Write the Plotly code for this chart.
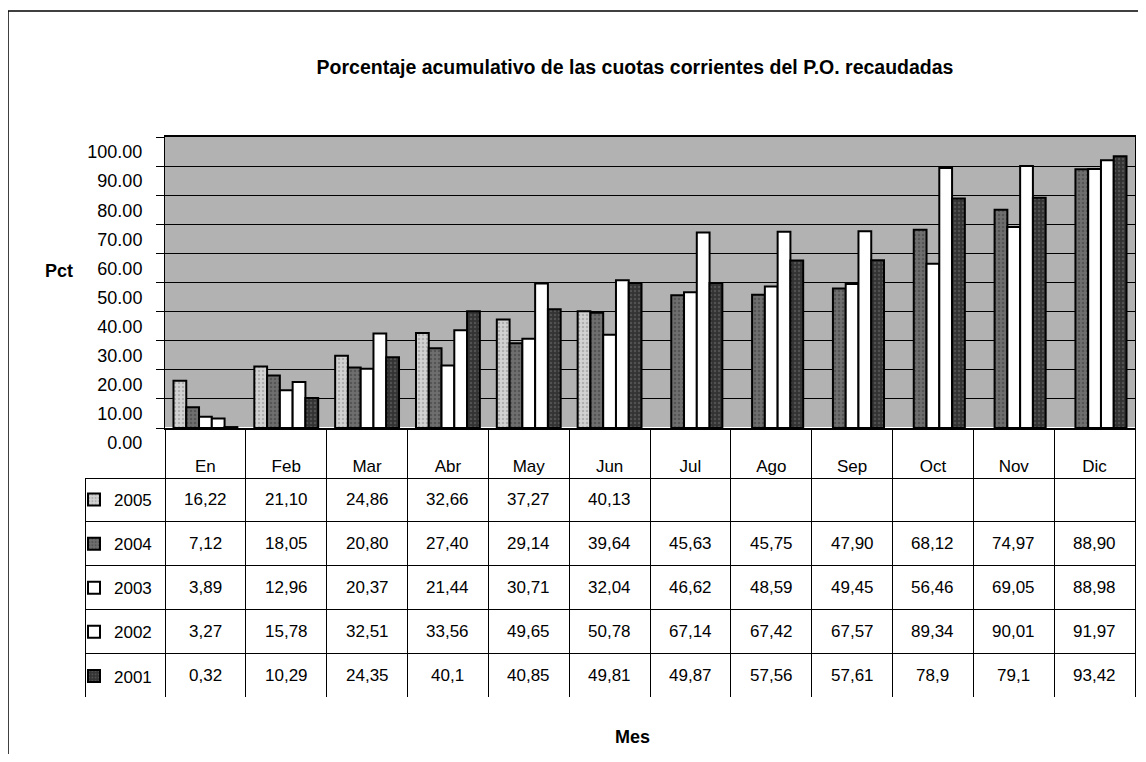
import plotly.graph_objects as go

months = ["En", "Feb", "Mar", "Abr", "May", "Jun", "Jul", "Ago", "Sep", "Oct", "Nov", "Dic"]
years = ["2005", "2004", "2003", "2002", "2001"]
t2005 = ["16,22", "21,10", "24,86", "32,66", "37,27", "40,13", "", "", "", "", "", ""]
t2004 = ["7,12", "18,05", "20,80", "27,40", "29,14", "39,64", "45,63", "45,75", "47,90", "68,12", "74,97", "88,90"]
t2003 = ["3,89", "12,96", "20,37", "21,44", "30,71", "32,04", "46,62", "48,59", "49,45", "56,46", "69,05", "88,98"]
t2002 = ["3,27", "15,78", "32,51", "33,56", "49,65", "50,78", "67,14", "67,42", "67,57", "89,34", "90,01", "91,97"]
t2001 = ["0,32", "10,29", "24,35", "40,1", "40,85", "49,81", "49,87", "57,56", "57,61", "78,9", "79,1", "93,42"]
table_text = [t2005, t2004, t2003, t2002, t2001]

fills = ["#d2d2d2", "#6f6f6f", "#ffffff", "#ffffff", "#333333"]
pat_fg = ["#8a8a8a", "#3a3a3a", "#ffffff", "#ffffff", "#707070"]
pat_shape = [".", ".", "", "", "."]


def to_num(s):
    return float(s.replace(",", ".")) if s else None


# page has an 8px body margin: figure is sized to fit inside the window
OFF = 8
W, H = 1146 - 2 * OFF, 762 - 2 * OFF
# target screen positions of the paper area
SL, SR, ST, SB = 85, 1135, 137, 697
ML, MT = SL - OFF, ST - OFF
MR = W - (SR - OFF)
MB = H - (SB - OFF)
PW, PH = SR - SL, SB - ST
TABLE_TOP = 478
ROW_H = (SB - TABLE_TOP) / len(years)


def px(x):
    return (x - SL) / PW


def py(y):
    return (SB - y) / PH


fig = go.Figure()
for i, yr in enumerate(years):
    fig.add_trace(go.Bar(
        x=months, y=[to_num(s) for s in table_text[i]], name=yr,
        legendgroup=yr,
        marker=dict(color=fills[i], line=dict(color="black", width=2),
                    pattern=dict(shape=pat_shape[i], fgcolor=pat_fg[i], size=4, solidity=0.3)),
    ))

# data-table grid (text is laid over it at the month categories)
fig.add_trace(go.Table(
    domain=dict(x=[0, 1], y=[0, py(TABLE_TOP)]),
    columnwidth=[80] + [80.83] * 12,
    header=dict(values=[""] * 13, height=ROW_H,
                line=dict(color="black", width=1), fill=dict(color="white")),
    cells=dict(values=[[""] * 4] * 13, height=ROW_H,
               line=dict(color="black", width=1), fill=dict(color="white")),
    hoverinfo="skip",
))

annotations = []
for r in range(len(years)):
    yc = py(TABLE_TOP + (r + 0.5) * ROW_H)
    for c, m in enumerate(months):
        if table_text[r][c]:
            annotations.append(dict(text=table_text[r][c], x=m, xref="x", y=yc, yref="paper",
                                    showarrow=False, xanchor="center", yanchor="middle",
                                    font=dict(family="Liberation Sans, Arial", size=17, color="black")))

bold_narrow = "Liberation Sans Narrow, Arial Narrow, Liberation Sans"
annotations += [
    dict(text="<b>Pct</b>", x=px(59), y=py(271), xref="paper", yref="paper", showarrow=False,
         xanchor="center", yanchor="middle", font=dict(family=bold_narrow, size=18)),
    dict(text="<b>Mes</b>", x=px(632), y=py(737), xref="paper", yref="paper", showarrow=False,
         xanchor="center", yanchor="middle", font=dict(family=bold_narrow, size=18)),
]

fig.update_layout(
    width=W, height=H,
    margin=dict(l=ML, r=MR, t=MT, b=MB),
    paper_bgcolor="white", plot_bgcolor="#b2b2b2",
    barmode="group", bargap=0.21, bargroupgap=0,
    font=dict(family="Liberation Sans, Arial", size=17, color="black"),
    title=dict(text="<b>Porcentaje acumulativo de las cuotas corrientes del P.O. recaudadas</b>",
               x=(635 - OFF) / W, xref="container", xanchor="center",
               y=1 - (67 - OFF) / H, yref="container", yanchor="middle",
               font=dict(family=bold_narrow, size=19.5, color="black")),
    xaxis=dict(domain=[px(165), 1], type="category", showline=True, linecolor="black", linewidth=2,
               mirror=True, ticks="outside", tickson="boundaries", ticklen=50, tickcolor="black",
               tickwidth=1, ticklabelstandoff=22, showgrid=False,
               tickfont=dict(family="Liberation Sans, Arial", size=17)),
    yaxis=dict(domain=[py(428), 1], range=[0, 100], dtick=10, tickformat=".2f",
               showline=True, linecolor="black", linewidth=1, mirror=True,
               ticks="outside", ticklen=8, tickcolor="black",
               showgrid=True, gridcolor="black", gridwidth=1,
               ticklabelshift=15, ticklabelstandoff=10,
               tickfont=dict(family="Liberation Sans, Arial", size=18)),
    legend=dict(x=px(74), xanchor="left", y=py(482), yanchor="top",
                traceorder="grouped", tracegroupgap=19, bgcolor="rgba(0,0,0,0)",
                font=dict(family="Liberation Sans, Arial", size=17)),
    annotations=annotations,
    shapes=[
        dict(type="line", xref="paper", yref="paper", x0=px(8), x1=px(1146), y0=py(11), y1=py(11),
             line=dict(color="black", width=1.5)),
        dict(type="line", xref="paper", yref="paper", x0=px(8), x1=px(8), y0=py(11), y1=py(762),
             line=dict(color="black", width=1.5)),
    ],
)

fig.write_html("out.html")
